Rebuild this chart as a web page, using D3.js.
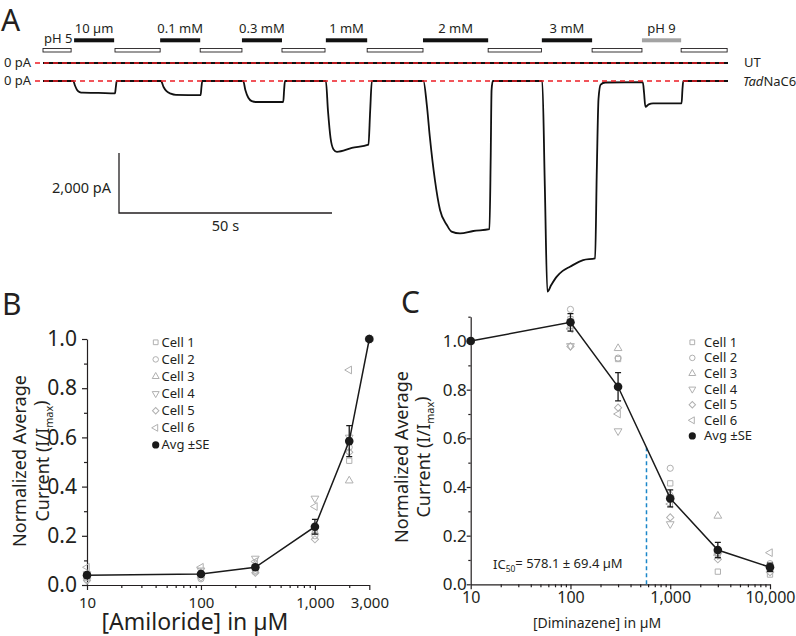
<!DOCTYPE html>
<html>
<head>
<meta charset="utf-8">
<script src="https://d3js.org/d3.v7.min.js"></script>
<style>
body { margin: 0; background: #fff; }
text { font-family: 'Noto Sans', sans-serif; fill: #231f20; }
</style>
</head>
<body>
<svg id="svg" width="796" height="636"></svg>
<script>
'use strict';

// ---- panel A: solution applications (s from start of trace) ----
const pulseLabels = ['10 µm', '0.1 mM', '0.3 mM', '1 mM', '2 mM', '3 mM', 'pH 9'];
const pulseStart = [7.3, 27.5, 46.7, 66.4, 89.2, 117.1, 140.6];
const pulseEnd = [16.7, 36.9, 56.1, 76.1, 104.5, 128.9, 149.8];
const washStart = [0, 16.9, 36.9, 56.1, 76.1, 104.5, 128.9, 149.8];
const washEnd = [6.6, 27.5, 46.7, 66.2, 89.2, 117.0, 140.6, 160.6];

// current traces, [s, pA]
const utTrace = [[0, 0], [160.8, 0]];
const tadTrace = [
	[0, 0], [7.1, 0], [7.5, -150], [8.0, -300], [8.6, -370], [9.3, -390], [13, -395], [16.9, -410], [17.1, -200], [17.3, 0],
	[27.7, 0], [28.3, -200], [29.0, -340], [30.0, -420], [31.2, -460], [37.0, -470], [37.2, -200], [37.4, 0],
	[47.0, 0], [47.5, -300], [48.2, -560], [49.0, -670], [50.0, -700], [56.4, -700], [56.6, -300], [56.8, 0],
	[66.4, 0], [66.9, -1000], [67.5, -1900], [68.2, -2280], [69.0, -2360], [72.5, -2230], [76.4, -2120], [76.8, -1000], [77.2, 0],
	[89.3, 0], [90.1, -800], [90.8, -1850], [92.0, -3300], [93.2, -4300], [94.8, -4800], [95.9, -5020], [97.9, -5080], [101, -5000], [104.8, -4940], [105.1, -2500], [105.3, -300], [105.6, 0],
	[117.2, 0], [117.8, -3500], [118.4, -7020], [119.3, -6800], [120.6, -6520], [122, -6330], [123.7, -6190], [126.8, -5970], [129.6, -5910], [130.0, -3000], [130.4, -600], [130.9, -120], [132, -50],
	[140.8, -35], [141.1, -400], [141.4, -860], [142.2, -780], [143.2, -745], [149.9, -745], [150.1, -300], [150.3, 0], [160.8, 0]
];

// ---- panels B and C ----
const cellNames = ['Cell 1', 'Cell 2', 'Cell 3', 'Cell 4', 'Cell 5', 'Cell 6'];

const amilConc = [10, 100, 300, 1000, 2000, 3000];
const amilCells = [
	[0.03, 0.04, 0.055, 0.225, 0.505, 1],
	[0.022, 0.025, 0.06, 0.2, 0.56, 1],
	[0.035, 0.05, 0.085, 0.215, 0.424, 1],
	[0.045, 0.06, 0.108, 0.352, 0.6, 1],
	[0.018, 0.03, 0.05, 0.186, 0.54, 1],
	[0.072, 0.072, 0.095, 0.319, 0.874, 1]
];
const amilAvg = [0.04, 0.045, 0.072, 0.237, 0.585, 1];
const amilSE = [0.006, 0.006, 0.008, 0.03, 0.063, 0];

const dimConc = [10, 100, 300, 1000, 3000, 10000];
const dimCells = [
	[1, 1.09, 0.926, 0.415, 0.052, 0.04],
	[1, 1.13, 0.93, 0.477, 0.13, 0.085],
	[1, 1.06, 0.97, 0.37, 0.281, 0.06],
	[1, 0.98, 0.63, 0.248, 0.12, 0.07],
	[1, 0.978, 0.726, 0.275, 0.103, 0.05],
	[1, 1.05, 0.70, 0.33, 0.12, 0.13]
];
const dimAvg = [1, 1.077, 0.812, 0.353, 0.141, 0.07];
const dimSE = [0, 0.036, 0.058, 0.035, 0.031, 0.017];
const ic50 = 578.1;
const ic50SE = 69.4;

const svg = d3.select('#svg');
svg.append('rect').attr('width', 796).attr('height', 636).attr('fill', '#fff');

function label(g, x, y, txt, size, anchor) {
	return g.append('text').attr('x', x).attr('y', y)
		.attr('font-size', size).attr('text-anchor', anchor || 'start').text(txt);
}

function panelLetter(g, x, y, txt) {
	return label(g, x, y, txt, 30).attr('font-family', 'Liberation Sans, sans-serif');
}

// ================= panel A =================
const gA = svg.append('g');
const xA = d3.scaleLinear().domain([0, 160.8]).range([43, 728]);
const yUT = d3.scaleLinear().domain([0, -2000]).range([63, 123]);
const yTad = d3.scaleLinear().domain([0, -2000]).range([81, 141]);

panelLetter(gA, 1, 30.5, 'A');

gA.selectAll('rect.wash')
	.data(washStart.map((s, i) => [s, washEnd[i]]))
	.join('rect')
	.attr('class', 'wash')
	.attr('x', d => xA(d[0]))
	.attr('width', d => xA(d[1]) - xA(d[0]))
	.attr('y', 48.5).attr('height', 3.5)
	.attr('fill', '#fff').attr('stroke', '#231f20').attr('stroke-width', 0.9);

gA.selectAll('rect.pulse')
	.data(pulseStart.map((s, i) => [s, pulseEnd[i], pulseLabels[i]]))
	.join('rect')
	.attr('class', 'pulse')
	.attr('x', d => xA(d[0]))
	.attr('width', d => xA(d[1]) - xA(d[0]))
	.attr('y', 38.3).attr('height', 4)
	.attr('fill', d => d[2] === 'pH 9' ? '#a3a3a3' : '#111');

gA.selectAll('text.plab')
	.data(pulseStart.map((s, i) => [s, pulseEnd[i], pulseLabels[i]]))
	.join('text')
	.attr('class', 'plab')
	.attr('x', d => (xA(d[0]) + xA(d[1])) / 2)
	.attr('y', 32.5)
	.attr('text-anchor', 'middle')
	.attr('font-size', 13)
	.text(d => d[2]);
label(gA, 44, 43, 'pH 5', 13);

const traceLine = y => d3.line().x(d => xA(d[0])).y(d => y(d[1])).curve(d3.curveMonotoneX);
gA.append('path').datum(utTrace).attr('d', traceLine(yUT))
	.attr('fill', 'none').attr('stroke', '#111').attr('stroke-width', 1.8);
gA.append('path').datum(tadTrace).attr('d', traceLine(yTad))
	.attr('fill', 'none').attr('stroke', '#111').attr('stroke-width', 1.8).attr('stroke-linejoin', 'round');

for (const y of [yUT(0), yTad(0)]) {
	gA.append('line').attr('x1', 35).attr('x2', xA(160.8)).attr('y1', y).attr('y2', y)
		.attr('stroke', '#ed1c24').attr('stroke-width', 1.4).attr('stroke-dasharray', '5,4');
}
label(gA, 4, 66.7, '0 pA', 13);
label(gA, 4, 85.3, '0 pA', 13);
label(gA, 744, 67, 'UT', 13);
const tadLab = label(gA, 743, 85.5, '', 13);
tadLab.append('tspan').attr('font-style', 'italic').text('Tad');
tadLab.append('tspan').text('NaC6');

// scale bar
const sbX = 119, sbY = 213;
gA.append('path')
	.attr('d', `M${sbX},${sbY - (yTad(-2000) - yTad(0))}V${sbY}H${sbX + xA(50) - xA(0)}`)
	.attr('fill', 'none').attr('stroke', '#231f20').attr('stroke-width', 1.3);
label(gA, 111, 192.5, '2,000 pA', 14.5, 'end');
label(gA, sbX + (xA(50) - xA(0)) / 2, 231, '50 s', 14.5, 'middle');

// ================= dose panels =================
const symTypes = [d3.symbolSquare, d3.symbolCircle, d3.symbolTriangle, d3.symbolTriangle, d3.symbolSquare, d3.symbolTriangle];
const symRot = [0, 0, 0, 180, 45, -90];
const symSize = [28, 30, 26, 26, 26, 26];
const grey = '#b0b0b0';

function dosePanel(c) {
	const g = svg.append('g');
	const x = d3.scaleLog().domain(c.xDomain).range(c.xRange);
	const y = d3.scaleLinear().domain(c.yDomain).range(c.yRange);

	// y axis
	const yMajor = d3.range(0, c.yDomain[1] + 0.001, 0.2);
	const yMinor = d3.range(0.1, c.yDomain[1] + 0.001, 0.2);
	const ya = g.append('g').attr('transform', `translate(${c.xRange[0]},0)`)
		.call(d3.axisLeft(y).tickValues(yMajor).tickFormat(d3.format('.1f'))
			.tickSize(c.yTick).tickSizeOuter(0).tickPadding(c.yPad));
	ya.selectAll('text').attr('font-size', c.yFont).attr('font-family', 'Noto Sans');
	const ym = g.append('g').attr('transform', `translate(${c.xRange[0]},0)`)
		.call(d3.axisLeft(y).tickValues(yMinor).tickFormat('').tickSize(c.yTick * 0.6));
	ym.select('.domain').remove();

	// x axis
	const xMinor = x.ticks().filter(v => !c.xTicks.includes(v));
	const xa = g.append('g').attr('transform', `translate(0,${c.yRange[0]})`)
		.call(d3.axisBottom(x).tickValues(c.xTicks).tickFormat(d3.format(','))
			.tickSize(5).tickSizeOuter(0).tickPadding(c.xPad));
	xa.selectAll('text').attr('font-size', c.xFont).attr('font-family', 'Noto Sans');
	const xm = g.append('g').attr('transform', `translate(0,${c.yRange[0]})`)
		.call(d3.axisBottom(x).tickValues(xMinor).tickFormat('').tickSize(3));
	xm.select('.domain').remove();
	g.selectAll('.domain, .tick line').attr('stroke', '#231f20').attr('stroke-width', 1.2);

	// individual cells
	c.cells.forEach((vals, k) => {
		g.selectAll(null).data(vals).join('path')
			.attr('d', d3.symbol().type(symTypes[k]).size(symSize[k]))
			.attr('transform', (d, i) => `translate(${x(c.conc[i])},${y(d)}) rotate(${symRot[k]})`)
			.attr('fill', 'none').attr('stroke', grey).attr('stroke-width', 1);
	});

	if (c.extra) c.extra(g, x, y);

	// average line, error bars, dots
	g.append('path').datum(c.avg)
		.attr('d', d3.line().x((d, i) => x(c.conc[i])).y(d => y(d)))
		.attr('fill', 'none').attr('stroke', '#1a1a1a').attr('stroke-width', 1.5);
	g.selectAll(null).data(c.avg).join('path')
		.attr('d', (d, i) => {
			const cx = x(c.conc[i]), t = y(d + c.se[i]), b = y(d - c.se[i]);
			return `M${cx - 3},${t}H${cx + 3}M${cx},${t}V${b}M${cx - 3},${b}H${cx + 3}`;
		})
		.attr('fill', 'none').attr('stroke', '#1a1a1a').attr('stroke-width', 1.3);
	g.selectAll(null).data(c.avg).join('circle')
		.attr('cx', (d, i) => x(c.conc[i])).attr('cy', d => y(d)).attr('r', 4.3)
		.attr('fill', '#1a1a1a');

	// legend
	cellNames.concat(['Avg ±SE']).forEach((name, k) => {
		const cy = c.legY + k * c.legStep;
		if (k < 6) {
			g.append('path')
				.attr('d', d3.symbol().type(symTypes[k]).size(symSize[k] * 0.8))
				.attr('transform', `translate(${c.legX},${cy}) rotate(${symRot[k]})`)
				.attr('fill', 'none').attr('stroke', grey).attr('stroke-width', 1);
		} else {
			g.append('circle').attr('cx', c.legX).attr('cy', cy).attr('r', 3.6).attr('fill', '#1a1a1a');
		}
		label(g, c.legTextX, cy, name, c.legFont).attr('dy', '0.35em');
	});

	// titles
	label(g, c.xTitleX, c.xTitleY, c.xTitle, c.xTitleFont, 'middle');
	g.append('text').attr('transform', `translate(${c.yTitleX[0]},${c.yTitleY}) rotate(-90)`)
		.attr('text-anchor', 'middle').attr('dy', '0.35em').attr('font-size', c.yTitleFont)
		.text('Normalized Average');
	const yt2 = g.append('text').attr('transform', `translate(${c.yTitleX[1]},${c.yTitleY}) rotate(-90)`)
		.attr('text-anchor', 'middle').attr('dy', '0.35em').attr('font-size', c.yTitleFont);
	yt2.append('tspan').text('Current (I/I');
	yt2.append('tspan').attr('font-size', c.yTitleFont * 0.6).attr('dy', '0.35em').text('max');
	yt2.append('tspan').attr('dy', '-0.35em').text(')');
	panelLetter(g, c.letter[1], c.letter[2], c.letter[0]);
	return g;
}

dosePanel({
	conc: amilConc, cells: amilCells, avg: amilAvg, se: amilSE,
	xDomain: [10, 3000], xRange: [87, 369.3], xTicks: [10, 100, 1000, 3000],
	yDomain: [0, 1], yRange: [585, 339],
	yTick: 5, yPad: 5, yFont: 21, xPad: 7, xFont: 15,
	legX: 155.7, legTextX: 161.5, legY: 342.3, legStep: 17.1, legFont: 13,
	xTitle: '[Amiloride] in µM', xTitleX: 195, xTitleY: 630, xTitleFont: 23,
	yTitleX: [20, 43], yTitleY: 461, yTitleFont: 18,
	letter: ['B', 2, 315]
});

dosePanel({
	conc: dimConc, cells: dimCells, avg: dimAvg, se: dimSE,
	xDomain: [10, 10000], xRange: [470.7, 770], xTicks: [10, 100, 1000, 10000],
	yDomain: [0, 1.1], yRange: [584.3, 316.7],
	yTick: 4, yPad: 0, yFont: 17, xPad: 2, xFont: 16,
	legX: 692.3, legTextX: 704, legY: 342.3, legStep: 15.6, legFont: 13,
	xTitle: '[Diminazene] in µM', xTitleX: 597, xTitleY: 628, xTitleFont: 14,
	yTitleX: [402, 424], yTitleY: 457, yTitleFont: 18,
	letter: ['C', 401, 313],
	extra: (g, x, y) => {
		// IC50 marker: dashed drop line from the average curve
		const i = d3.bisectLeft(dimConc, ic50);
		const f = (Math.log10(ic50) - Math.log10(dimConc[i - 1])) / (Math.log10(dimConc[i]) - Math.log10(dimConc[i - 1]));
		const top = dimAvg[i - 1] + f * (dimAvg[i] - dimAvg[i - 1]);
		g.append('line').attr('x1', x(ic50)).attr('x2', x(ic50)).attr('y1', y(0)).attr('y2', y(top))
			.attr('stroke', '#1b87c9').attr('stroke-width', 1.5).attr('stroke-dasharray', '4,3');
		const t = label(g, 493, 569, 'IC', 13);
		t.append('tspan').attr('font-size', 8.5).attr('dy', '0.3em').text('50');
		t.append('tspan').attr('dy', '-0.3em').text(`= ${ic50} ± ${ic50SE} µM`);
	}
});
</script>
</body>
</html>
